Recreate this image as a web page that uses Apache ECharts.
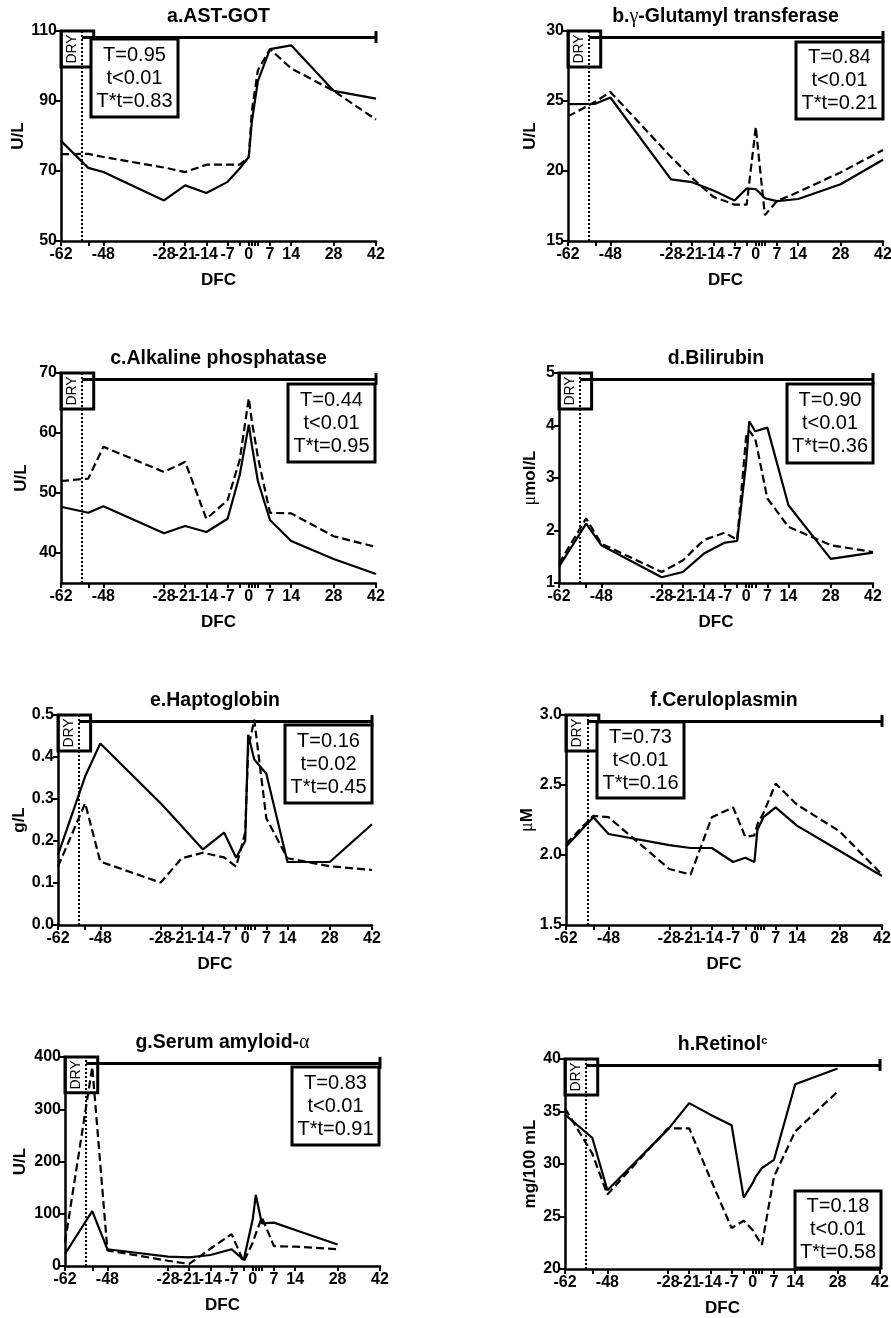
<!DOCTYPE html>
<html>
<head>
<meta charset="utf-8">
<script src="https://cdn.jsdelivr.net/npm/echarts@6/dist/echarts.min.js"></script>
<style>
  html, body { margin: 0; padding: 0; background: #fff; }
  #chart { width: 891px; height: 1318px; }
</style>
</head>
<body>
<div id="chart"></div>
<script>
// Days from calving at which samples were taken
const DFC = [-62, -53, -48, -28, -21, -14, -7, -3, 0, 1, 3, 7, 14, 28, 42];
const DFC_LABELS = [-62, -48, -28, -21, -14, -7, 0, 7, 14, 28, 42];
const DFC_TICKS = [-62, -53, -48, -28, -21, -14, -7, -3, 0, 1, 2, 3, 7, 14, 28, 42];
const DRY_OFF_DAY = -55;
const DRY_BOX_END = -51.2;

// a. AST-GOT (U/L)
const astSolid  = [78.6, 70.9, 69.7, 61.6, 65.9, 63.7, 66.9, 70.7, 74.0, 84.0, 95.7, 104.8, 105.9, 92.9, 90.7];
const astDashed = [74.8, 74.9, 74.0, 71.0, 69.7, 71.8, 71.8, 71.8, 74.0, 87.0, 98.8, 104.8, 99.3, 92.9, 84.7];
// b. gamma-glutamyl transferase (U/L)
const ggtSolid  = [24.78, 24.8, 25.25, 19.4, 19.2, 18.6, 17.9, 18.75, 18.7, 18.5, 18.05, 17.85, 18.0, 19.05, 20.8];
const ggtDashed = [23.9, 24.95, 25.65, 21.0, 19.5, 18.15, 17.6, 17.6, 23.15, 21.0, 16.85, 17.85, 18.5, 19.9, 21.5];
// c. Alkaline phosphatase (U/L)
const alpSolid  = [47.7, 46.7, 47.8, 43.3, 44.5, 43.5, 45.7, 53.0, 61.4, 58.0, 52.0, 45.5, 42.0, 39.0, 36.5];
const alpDashed = [52.0, 52.4, 57.7, 53.5, 55.2, 45.7, 48.8, 55.5, 65.8, 62.0, 56.0, 46.7, 46.6, 42.8, 41.0];
// d. Bilirubin (umol/L)
const bilSolid  = [1.31, 2.13, 1.72, 1.11, 1.21, 1.56, 1.77, 1.80, 3.30, 4.08, 3.89, 3.96, 2.48, 1.46, 1.58];
const bilDashed = [1.37, 2.23, 1.75, 1.21, 1.43, 1.82, 1.96, 1.82, 3.80, 3.90, 3.75, 2.61, 2.07, 1.72, 1.59];
// e. Haptoglobin (g/L)
const hpSolid  = [0.167, 0.354, 0.432, 0.29, 0.235, 0.18, 0.22, 0.16, 0.20, 0.453, 0.394, 0.36, 0.15, 0.15, 0.24];
const hpDashed = [0.139, 0.29, 0.151, 0.101, 0.159, 0.172, 0.161, 0.139, 0.22, 0.42, 0.489, 0.254, 0.159, 0.14, 0.131];
// f. Ceruloplasmin (uM)
const cpSolid  = [2.06, 2.27, 2.15, 2.07, 2.05, 2.05, 1.95, 1.98, 1.95, 2.18, 2.27, 2.34, 2.21, 2.03, 1.85];
const cpDashed = [2.08, 2.28, 2.27, 1.90, 1.86, 2.27, 2.34, 2.13, 2.14, 2.22, 2.30, 2.51, 2.36, 2.17, 1.86];
// g. Serum amyloid-alpha (U/L)
const saaSolid  = [23, 105, 32, 18, 16.6, 21, 32, 11.5, 90, 136, 81.5, 83, 69, 41, null];
const saaDashed = [45, 381, 30, 10, 4, 33, 61, 8, 45, 62, 93, 38, 37, 32, null];
// h. Retinol (mg/100 mL)
const retSolid  = [34.7, 32.5, 27.5, 33.3, 35.8, 34.7, 33.7, 26.8, 28.2, 28.8, 29.6, 30.4, 37.6, 39.1, null];
const retDashed = [35.3, 31.0, 27.1, 33.4, 33.4, 28.6, 23.9, 24.6, 23.7, 23.2, 22.3, 28.8, 33.1, 36.9, null];

const FONT = 'Liberation Sans, Arial, sans-serif';
const SERIF = 'Liberation Serif, Times New Roman, serif';

const panels = [
  { title: 'a.AST-GOT', yName: 'U/L', yMin: 50, yMax: 110, yStep: 20, solid: astSolid, dashed: astDashed,
    stats: ['T=0.95', 't<0.01', 'T*t=0.83'] },
  { title: 'b.{g|γ}-Glutamyl transferase', yName: 'U/L', yMin: 15, yMax: 30, yStep: 5, solid: ggtSolid, dashed: ggtDashed,
    stats: ['T=0.84', 't<0.01', 'T*t=0.21'] },
  { title: 'c.Alkaline phosphatase', yName: 'U/L', yMin: 35, yMax: 70, yTicks: [40, 50, 60, 70], solid: alpSolid, dashed: alpDashed,
    stats: ['T=0.44', 't<0.01', 'T*t=0.95'] },
  { title: 'd.Bilirubin', yName: '{g|μ}mol/L', yMin: 1, yMax: 5, yStep: 1, solid: bilSolid, dashed: bilDashed,
    stats: ['T=0.90', 't<0.01', 'T*t=0.36'] },
  { title: 'e.Haptoglobin', yName: 'g/L', yMin: 0, yMax: 0.5, yStep: 0.1, digits: 1, solid: hpSolid, dashed: hpDashed,
    stats: ['T=0.16', 't=0.02', 'T*t=0.45'] },
  { title: 'f.Ceruloplasmin', yName: '{g|μ}M', yMin: 1.5, yMax: 3.0, yStep: 0.5, digits: 1, solid: cpSolid, dashed: cpDashed,
    stats: ['T=0.73', 't<0.01', 'T*t=0.16'] },
  { title: 'g.Serum amyloid-{g|α}', yName: 'U/L', yMin: 0, yMax: 400, yStep: 100, solid: saaSolid, dashed: saaDashed,
    stats: ['T=0.83', 't<0.01', 'T*t=0.91'] },
  { title: 'h.Retinol{sup|c}', yName: 'mg/100 mL', yMin: 20, yMax: 40, yStep: 5, solid: retSolid, dashed: retDashed,
    stats: ['T=0.18', 't<0.01', 'T*t=0.58'] }
];

// Plot rectangles [left, top, width, height], y-name gaps and stats box rectangles
const layout = [
  { grid: [61, 31, 315, 210],   yGap: 31, box: [91, 39, 87, 78] },
  { grid: [568, 31, 315, 210],  yGap: 29, box: [796, 42, 87, 77] },
  { grid: [61, 373, 315, 210],  yGap: 31, box: [288, 384, 87, 78] },
  { grid: [559, 373, 314, 210], yGap: 20, box: [787, 384, 86, 79] },
  { grid: [58, 715, 314, 210],  yGap: 26, box: [285, 725, 87, 78] },
  { grid: [566, 715, 316, 210], yGap: 29, box: [597, 722, 87, 76] },
  { grid: [65, 1057, 315, 209], yGap: 36, box: [292, 1067, 87, 78] },
  { grid: [565, 1059, 315, 210], yGap: 26, box: [795, 1191, 86, 77] }
];

const titleRich = {
  g: { fontFamily: SERIF, fontWeight: 'normal', fontSize: 20, color: '#000' },
  sup: { fontFamily: FONT, fontWeight: 'bold', fontSize: 11, verticalAlign: 'top', color: '#000' }
};

const grids = [], xAxes = [], yAxes = [], series = [], titles = [], graphics = [];

function pairs(vals) {
  const out = [];
  DFC.forEach((d, k) => { if (vals[k] != null) out.push([d, vals[k]]); });
  return out;
}

panels.forEach((p, i) => {
  const L = layout[i];
  const [gl, gt, gw, gh] = L.grid;
  grids.push({ left: gl, top: gt, width: gw, height: gh, containLabel: false, outerBoundsMode: 'none' });

  titles.push({
    text: p.title,
    left: gl + gw / 2,
    top: gt - 24,
    textAlign: 'center',
    padding: 0,
    textStyle: { fontFamily: FONT, fontWeight: 'bold', fontSize: 19.5, color: '#000', rich: titleRich }
  });

  xAxes.push({
    type: 'value', gridIndex: i, min: -62, max: 42,
    name: 'DFC', nameLocation: 'middle', nameGap: 31,
    nameTextStyle: { fontFamily: FONT, fontWeight: 'bold', fontSize: 17, color: '#000' },
    axisLine: { show: true, onZero: false, lineStyle: { color: '#000', width: 2.5 } },
    axisTick: { show: true, length: 5, lineStyle: { color: '#000', width: 2 }, customValues: DFC_TICKS },
    axisLabel: { fontFamily: FONT, fontWeight: 'bold', fontSize: 16, color: '#000', margin: 6, customValues: DFC_LABELS },
    splitLine: { show: false }
  });

  const yLabel = { fontFamily: FONT, fontWeight: 'bold', fontSize: 16, color: '#000', margin: 4 };
  if (p.digits) yLabel.formatter = v => v.toFixed(p.digits);
  const yTick = { show: true, length: 5, lineStyle: { color: '#000', width: 2 } };
  const yAxis = {
    type: 'value', gridIndex: i, min: p.yMin, max: p.yMax,
    name: p.yName, nameLocation: 'middle', nameGap: L.yGap, nameRotate: 90,
    nameTextStyle: { fontFamily: FONT, fontWeight: 'bold', fontSize: 17, color: '#000',
      rich: { g: { fontFamily: SERIF, fontWeight: 'normal', fontSize: 18, color: '#000' } } },
    axisLine: { show: true, onZero: false, lineStyle: { color: '#000', width: 2.5 } },
    axisTick: yTick, axisLabel: yLabel,
    splitLine: { show: false }
  };
  if (p.yTicks) { yTick.customValues = p.yTicks; yLabel.customValues = p.yTicks; }
  else yAxis.interval = p.yStep;
  yAxes.push(yAxis);

  const range = p.yMax - p.yMin;
  const barLevel = p.yMax - 0.028 * range;
  const boxBottom = p.yMax - 0.171 * range;

  series.push({
    name: 'Group A', type: 'line', xAxisIndex: i, yAxisIndex: i,
    data: pairs(p.solid), symbol: 'none', silent: true, animation: false,
    lineStyle: { color: '#000', width: 2.2, type: 'solid' },
    markArea: {
      silent: true,
      itemStyle: { color: 'rgba(0,0,0,0)', borderColor: '#000', borderWidth: 3 },
      label: { show: true, position: 'inside', rotate: 90, offset: [0, -5],
        fontFamily: FONT, fontSize: 14, color: '#000', formatter: 'DRY' },
      data: [[{ xAxis: -62, yAxis: p.yMax }, { xAxis: DRY_BOX_END, yAxis: boxBottom }]]
    },
    markLine: {
      silent: true, animation: false, symbol: ['none', 'none'],
      label: { show: false },
      data: [
        { xAxis: DRY_OFF_DAY, lineStyle: { color: '#000', width: 2, type: [2, 2] } },
        [
          { coord: [DRY_OFF_DAY, barLevel], symbol: 'none' },
          { coord: [42, barLevel], symbol: 'rect', symbolSize: [12, 3] }
        ]
      ],
      lineStyle: { color: '#000', width: 3, type: 'solid' }
    }
  });
  series.push({
    name: 'Group B', type: 'line', xAxisIndex: i, yAxisIndex: i,
    data: pairs(p.dashed), symbol: 'none', silent: true, animation: false,
    lineStyle: { color: '#000', width: 2.2, type: [8, 4] }
  });

  const [bx, by, bw, bh] = L.box;
  graphics.push({
    type: 'rect', z: 100,
    shape: { x: bx, y: by, width: bw, height: bh },
    style: { fill: '#fff', stroke: '#000', lineWidth: 3 }
  });
  graphics.push({
    type: 'text', z: 101,
    x: bx + bw / 2, y: by + bh / 2,
    style: { text: p.stats.join('\n'), fill: '#000', font: '20px ' + FONT,
      align: 'center', verticalAlign: 'middle', lineHeight: 23 }
  });
});

const chart = echarts.init(document.getElementById('chart'), null, { renderer: 'canvas' });
chart.setOption({
  backgroundColor: '#fff',
  animation: false,
  title: titles,
  grid: grids,
  xAxis: xAxes,
  yAxis: yAxes,
  series: series,
  graphic: graphics
});
</script>
</body>
</html>
